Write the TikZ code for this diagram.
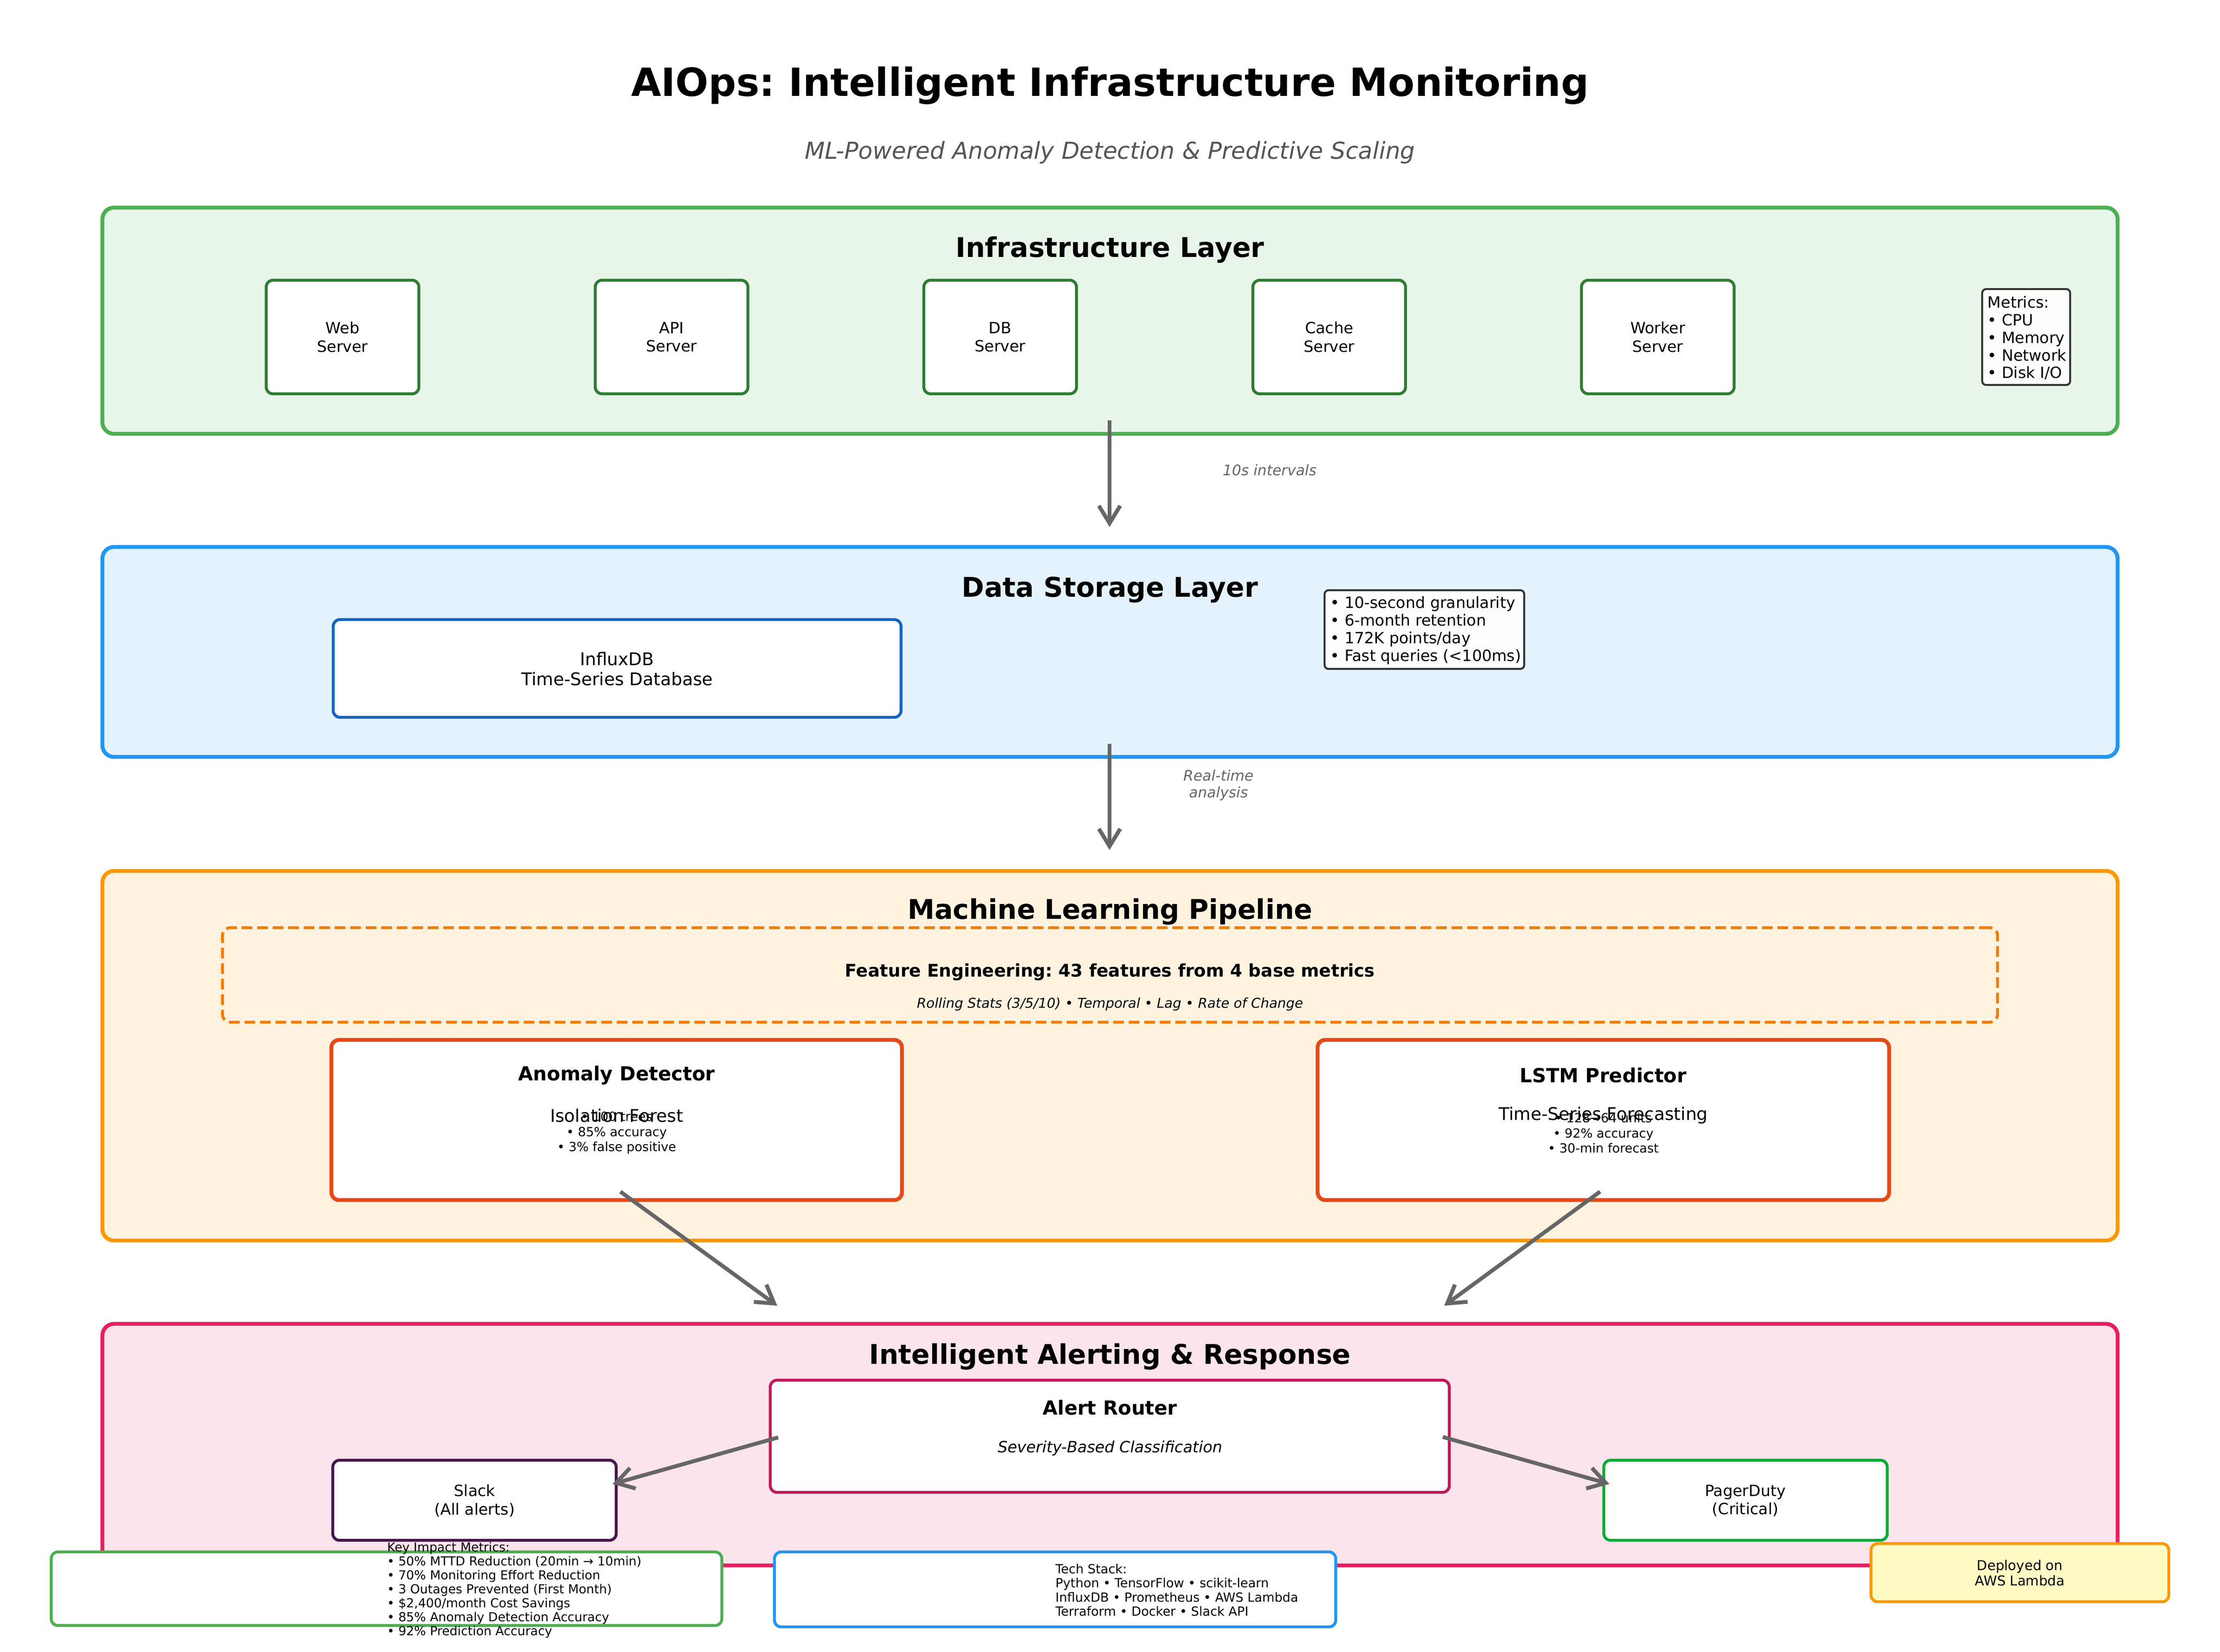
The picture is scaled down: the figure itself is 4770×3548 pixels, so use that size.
\documentclass[tikz,border=0pt]{standalone}
\usepackage{fontspec}
\setmainfont{DejaVu Sans}
\usetikzlibrary{arrows.meta}
\frenchspacing

\definecolor{infraB}{HTML}{4CAF50}
\definecolor{infraF}{HTML}{E8F5E9}
\definecolor{srvB}{HTML}{2E7D32}
\definecolor{storB}{HTML}{2196F3}
\definecolor{storF}{HTML}{E3F2FD}
\definecolor{influxB}{HTML}{1565C0}
\definecolor{mlB}{HTML}{FF9800}
\definecolor{mlF}{HTML}{FFF3E0}
\definecolor{featB}{HTML}{F57C00}
\definecolor{modelB}{HTML}{E64A19}
\definecolor{alertB}{HTML}{E91E63}
\definecolor{alertF}{HTML}{FCE4EC}
\definecolor{routerB}{HTML}{C2185B}
\definecolor{slackB}{HTML}{4A154B}
\definecolor{pdB}{HTML}{06AC38}
\definecolor{deployF}{HTML}{FFF9C4}
\definecolor{noteB}{HTML}{333333}
\definecolor{arrowC}{HTML}{666666}
\definecolor{subC}{HTML}{555555}

\newcommand\fsz[2]{\fontsize{#1}{#2}\selectfont}
\newcommand\bx[7]{\node[#2, minimum width={((#5)-(#3))*0.24pt}, minimum height={((#6)-(#4))*0.24pt}] (#1) at ({((#3)+(#5))/2},{((#4)+(#6))/2}) {#7};}

\begin{document}
\begin{tikzpicture}[x=0.24pt, y=-0.24pt,
  layer/.style={draw, line width=2pt, rounded corners=6pt, inner sep=0pt},
  inbox/.style={draw, fill=white, line width=1.5pt, rounded corners=3.5pt, inner sep=0pt},
  modelbox/.style={draw=modelB, fill=white, line width=2pt, rounded corners=4pt, inner sep=0pt},
  notebox/.style={draw=noteB, line width=1pt, rounded corners=2pt, inner sep=0pt},
  ltitle/.style={font=\fsz{14}{17}\bfseries},
  flow/.style={draw=arrowC, line width=2pt, -{Straight Barb[length=9pt,width=11pt]}},
  lbl/.style={text=arrowC, font=\fsz{7.5}{8.8}\itshape, align=center},
  txt/.style={align=center},
  ltxt/.style={align=left, anchor=west, inner sep=0pt}]

\fill[white] (0,0) rectangle (4770,3548);
\useasboundingbox (0,0) rectangle (4770,3548);

% Title
\node[font=\fsz{20}{24}\bfseries] (title) at (2385,184) {AIOps: Intelligent Infrastructure Monitoring};
\node[font=\fsz{12}{14}\itshape, text=subC] (subtitle) at (2385,328) {ML-Powered Anomaly Detection \& Predictive Scaling};

% Infrastructure layer
\bx{infra}{layer, draw=infraB, fill=infraF}{220}{446}{4550}{932}{}
\node[ltitle] (infraT) at (2385,537) {Infrastructure Layer};
\foreach \cx/\nm/\lab in {736/web/Web, 1443/api/API, 2149/db/DB, 2856/cache/Cache, 3562/worker/Worker}{
  \bx{\nm}{inbox, draw=srvB}{\cx-164}{602}{\cx+164}{846}{}
  \node[txt, font=\fsz{8}{9.4}] (\nm-t) at (\cx,724) {\lab\\Server};
}
\bx{metrics}{notebox, fill=white!85!infraF}{4259}{621}{4448}{827}{}
\node[ltxt, font=\fsz{8}{9.1}] (metricsT) at (4270,726) {Metrics:\\• CPU\\• Memory\\• Network\\• Disk I/O};

% Data storage layer
\bx{storage}{layer, draw=storB, fill=storF}{220}{1175}{4550}{1626}{}
\node[ltitle] (storageT) at (2385,1267) {Data Storage Layer};
\bx{influx}{inbox, draw=influxB}{716}{1331}{1936}{1541}{}
\node[txt, font=\fsz{9}{10.4}] (influxT) at (1326,1437) {InfluxDB\\Time-Series Database};
\bx{stats}{notebox, fill=white!85!storF}{2846}{1268}{3275}{1437}{}
\node[ltxt, font=\fsz{8}{9.1}] (statsT) at (2858,1354) {• 10-second granularity\\• 6-month retention\\• 172K points/day\\• Fast queries (<100ms)};

% ML pipeline
\bx{ml}{layer, draw=mlB, fill=mlF}{220}{1871}{4550}{2665}{}
\node[ltitle] (mlT) at (2385,1959) {Machine Learning Pipeline};
\bx{feat}{draw=featB, line width=1.5pt, dash pattern=on 5.5pt off 2.5pt, rounded corners=4pt, inner sep=0pt}{478}{1993}{4292}{2196}{}
\node[font=\fsz{9}{10.5}\bfseries] (featT) at (2385,2088) {Feature Engineering: 43 features from 4 base metrics};
\node[font=\fsz{7}{8.2}\itshape] (featS) at (2385,2157) {Rolling Stats (3/5/10) • Temporal • Lag • Rate of Change};

\bx{anom}{modelbox}{712}{2234}{1938}{2578}{}
\node[font=\fsz{10}{12}\bfseries] (anomT) at (1325,2310) {Anomaly Detector};
\node[font=\fsz{9}{10.5}] (anomS) at (1325,2396) {Isolation Forest};
\node[txt, font=\fsz{6.5}{7.8}] (anomB) at (1325,2434) {• 100 trees\\• 85\% accuracy\\• 3\% false positive};

\bx{lstm}{modelbox}{2831}{2234}{4059}{2578}{}
\node[font=\fsz{10}{12}\bfseries] (lstmT) at (3445,2310) {LSTM Predictor};
\node[font=\fsz{9}{10.5}] (lstmS) at (3445,2396) {Time-Series Forecasting};
\node[txt, font=\fsz{6.5}{7.8}] (lstmB) at (3445,2434) {• 128→64 units\\• 92\% accuracy\\• 30-min forecast};

% Alerting layer
\bx{alert}{layer, draw=alertB, fill=alertF}{220}{2844}{4550}{3363}{}
\node[ltitle] (alertT) at (2385,2915) {Intelligent Alerting \& Response};
\bx{router}{inbox, draw=routerB}{1655}{2965}{3114}{3206}{}
\node[font=\fsz{10}{12}\bfseries] (routerT) at (2385,3024) {Alert Router};
\node[font=\fsz{8}{9.4}\itshape] (routerS) at (2385,3111) {Severity-Based Classification};
\bx{slack}{inbox, draw=slackB}{715}{3137}{1324}{3309}{}
\node[txt, font=\fsz{8}{9.4}] (slackT) at (1020,3224) {Slack\\(All alerts)};
\bx{pager}{inbox, draw=pdB}{3446}{3137}{4055}{3309}{}
\node[txt, font=\fsz{8}{9.4}] (pagerT) at (3750,3224) {PagerDuty\\(Critical)};

% Connectors
\coordinate (a1s) at (2384,903);  \coordinate (a1e) at (2384,1132);
\coordinate (a2s) at (2384,1598); \coordinate (a2e) at (2384,1826);
\coordinate (a3s) at (1333,2560); \coordinate (a3e) at (1670,2805);
\coordinate (a4s) at (3438,2560); \coordinate (a4e) at (3103,2805);
\coordinate (a5s) at (1672,3088); \coordinate (a5e) at (1316,3188);
\coordinate (a6s) at (3100,3087); \coordinate (a6e) at (3458,3188);
\draw[flow] (a1s) -- (a1e);
\draw[flow] (a2s) -- (a2e);
\draw[flow] (a3s) -- (a3e);
\draw[flow] (a4s) -- (a4e);
\draw[flow] (a5s) -- (a5e);
\draw[flow] (a6s) -- (a6e);
\node[lbl] (l1) at (2728,1010) {10s intervals};
\node[lbl] (l2) at (2618,1687) {Real-time\\analysis};

% Bottom panels
\bx{impact}{inbox, draw=infraB}{110}{3334}{1551}{3492}{}
\node[ltxt, font=\fsz{6.4}{7.2}] (impactT) at (831,3416) {Key Impact Metrics:\\• 50\% MTTD Reduction (20min → 10min)\\• 70\% Monitoring Effort Reduction\\• 3 Outages Prevented (First Month)\\• \$2,400/month Cost Savings\\• 85\% Anomaly Detection Accuracy\\• 92\% Prediction Accuracy};
\bx{tech}{inbox, draw=storB}{1664}{3334}{2870}{3495}{}
\node[ltxt, font=\fsz{6.5}{7.3}] (techT) at (2267,3416) {Tech Stack:\\Python • TensorFlow • scikit-learn\\InfluxDB • Prometheus • AWS Lambda\\Terraform • Docker • Slack API};
\bx{deploy}{inbox, draw=mlB, fill=deployF}{4020}{3316}{4660}{3441}{}
\node[txt, font=\fsz{7}{7.8}] (deployT) at (4340,3379) {Deployed on\\AWS Lambda};
\end{tikzpicture}
\end{document}
